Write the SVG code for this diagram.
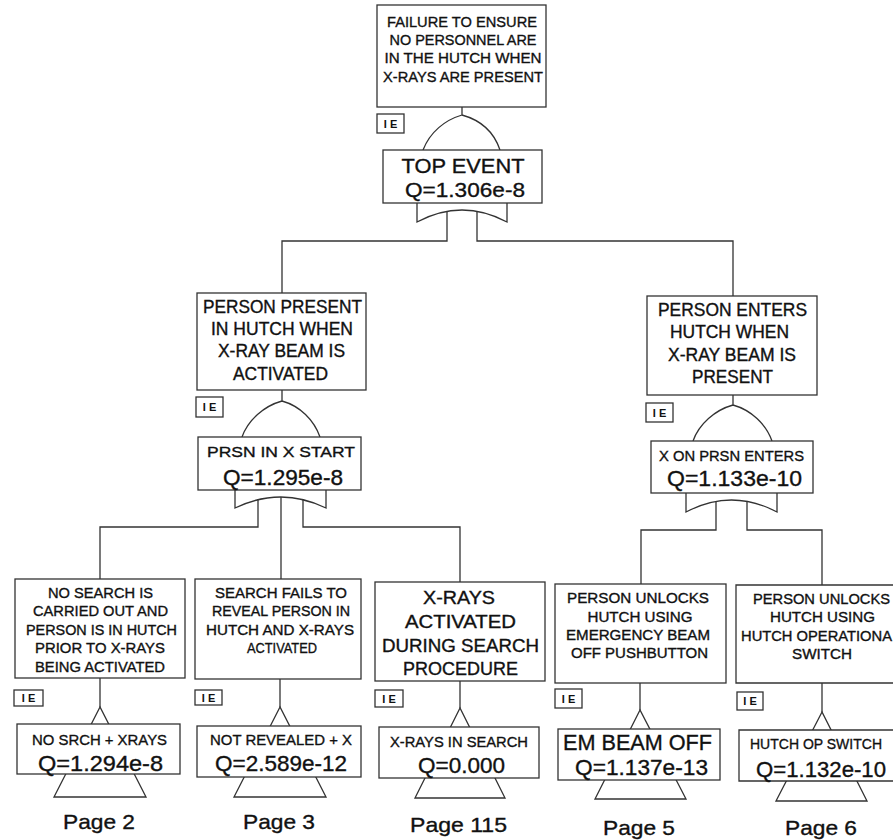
<svg xmlns="http://www.w3.org/2000/svg" width="893" height="840" viewBox="0 0 893 840">
<style>
.bx{fill:#fff;stroke:#333;stroke-width:1.3}
.ln{fill:none;stroke:#333;stroke-width:1.3}
.t{font-family:"Liberation Sans",Arial,sans-serif;fill:#111;stroke:#111;stroke-width:0.35;text-anchor:middle}
.s{font-size:15.5px}
.m{font-size:17.5px}
.b{font-size:14.5px}
.q{font-size:22px}
.pg{font-size:21px}
.ie{font-family:"Liberation Sans",Arial,sans-serif;font-size:11px;fill:#111;text-anchor:middle;font-weight:bold}
</style>
<rect width="893" height="840" fill="#fff"/>
<g id="connectors" class="ln">
<path d="M447,211 V241 H282 V293"/>
<path d="M477,211 V241 H733 V296"/>
<path d="M258,499 V527 H100 V579"/>
<path d="M281,497 V579"/>
<path d="M303,499 V527 H460 V582"/>
<path d="M716,502 V530 H641 V584"/>
<path d="M747,502 V530 H822 V585"/>
</g>
<g id="top-event">
<rect class="bx" x="377" y="5" width="169" height="102"/>
<text class="t s" x="462" y="27" textLength="150" lengthAdjust="spacingAndGlyphs">FAILURE TO ENSURE</text>
<text class="t s" x="463" y="45" textLength="147" lengthAdjust="spacingAndGlyphs">NO PERSONNEL ARE</text>
<text class="t s" x="463" y="63" textLength="157" lengthAdjust="spacingAndGlyphs">IN THE HUTCH WHEN</text>
<text class="t s" x="463" y="82" textLength="160" lengthAdjust="spacingAndGlyphs">X-RAYS ARE PRESENT</text>
<rect class="bx" x="377" y="114" width="27" height="19"/>
<text class="ie" x="390.5" y="128">I E</text>
<path class="ln" d="M462,107 V115 M423,150 C430,132 445,120 462,115 C480,120 494,132 500,150"/>
<path class="ln" d="M417,203 V222 Q462,198 507,222 V203"/>
<rect class="bx" x="383" y="150" width="159" height="53"/>
<text class="t" style="font-size:21px" x="463" y="173" textLength="123" lengthAdjust="spacingAndGlyphs">TOP EVENT</text>
<text class="t" style="font-size:21px" x="465" y="197" textLength="120" lengthAdjust="spacingAndGlyphs">Q=1.306e-8</text>
</g>
<g id="prsn-in-x-start">
<rect class="bx" x="197" y="293" width="169" height="97"/>
<text class="t m" x="282.5" y="313" textLength="159" lengthAdjust="spacingAndGlyphs">PERSON PRESENT</text>
<text class="t m" x="282" y="335" textLength="142" lengthAdjust="spacingAndGlyphs">IN HUTCH WHEN</text>
<text class="t m" x="281.5" y="357" textLength="127" lengthAdjust="spacingAndGlyphs">X-RAY BEAM IS</text>
<text class="t m" x="280.5" y="380" textLength="95" lengthAdjust="spacingAndGlyphs">ACTIVATED</text>
<rect class="bx" x="196" y="397" width="27" height="20"/>
<text class="ie" x="209.5" y="411">I E</text>
<path class="ln" d="M282,390 V401 M242,437 C248,420 264,406 282,401 C300,406 314,420 320,437"/>
<path class="ln" d="M235,490 V508 Q281,486 326,508 V490"/>
<rect class="bx" x="198" y="437" width="163" height="53"/>
<text class="t s" x="281" y="457" textLength="148" lengthAdjust="spacingAndGlyphs">PRSN IN X START</text>
<text class="t q" x="283" y="485" textLength="120" lengthAdjust="spacingAndGlyphs">Q=1.295e-8</text>
</g>
<g id="x-on-prsn-enters">
<rect class="bx" x="647" y="296" width="170" height="99"/>
<text class="t m" x="732.5" y="316" textLength="149" lengthAdjust="spacingAndGlyphs">PERSON ENTERS</text>
<text class="t m" x="729.5" y="338" textLength="119" lengthAdjust="spacingAndGlyphs">HUTCH WHEN</text>
<text class="t m" x="732" y="361" textLength="128" lengthAdjust="spacingAndGlyphs">X-RAY BEAM IS</text>
<text class="t m" x="732.5" y="383" textLength="81" lengthAdjust="spacingAndGlyphs">PRESENT</text>
<rect class="bx" x="646" y="403" width="27" height="19"/>
<text class="ie" x="659.5" y="416.5">I E</text>
<path class="ln" d="M733,395 V405 M693,441 C699,424 715,410 733,405 C751,410 766,424 772,441"/>
<path class="ln" d="M686,493 V512 Q731.5,488 777,512 V493"/>
<rect class="bx" x="651" y="441" width="162" height="52"/>
<text class="t s" x="731.5" y="461" textLength="145" lengthAdjust="spacingAndGlyphs">X ON PRSN ENTERS</text>
<text class="t q" x="734.5" y="486" textLength="135" lengthAdjust="spacingAndGlyphs">Q=1.133e-10</text>
</g>
<g id="no-srch-xrays">
<rect class="bx" x="15" y="579" width="170" height="99"/>
<text class="t b" x="100.5" y="598" textLength="105" lengthAdjust="spacingAndGlyphs">NO SEARCH IS</text>
<text class="t b" x="100.5" y="616" textLength="135" lengthAdjust="spacingAndGlyphs">CARRIED OUT AND</text>
<text class="t b" x="101.5" y="635" textLength="151" lengthAdjust="spacingAndGlyphs">PERSON IS IN HUTCH</text>
<text class="t b" x="100" y="653" textLength="130" lengthAdjust="spacingAndGlyphs">PRIOR TO X-RAYS</text>
<text class="t b" x="100" y="672" textLength="130" lengthAdjust="spacingAndGlyphs">BEING ACTIVATED</text>
<rect class="bx" x="14" y="690" width="29" height="16"/>
<text class="ie" x="28.5" y="702">I E</text>
<path class="ln" d="M100,678 V707"/>
<path class="bx" d="M100,707 L54,797 H146 Z"/>
<rect class="bx" x="17" y="724" width="163" height="50"/>
<text class="t s" x="99.5" y="745" textLength="135" lengthAdjust="spacingAndGlyphs">NO SRCH + XRAYS</text>
<text class="t q" x="100.5" y="771" textLength="125" lengthAdjust="spacingAndGlyphs">Q=1.294e-8</text>
<text class="t pg" x="99" y="829" textLength="72" lengthAdjust="spacingAndGlyphs">Page 2</text>
</g>
<g id="not-revealed-x">
<rect class="bx" x="195" y="579" width="166" height="100"/>
<text class="t b" x="281" y="598" textLength="132" lengthAdjust="spacingAndGlyphs">SEARCH FAILS TO</text>
<text class="t b" x="281" y="616" textLength="138" lengthAdjust="spacingAndGlyphs">REVEAL PERSON IN</text>
<text class="t b" x="280" y="635" textLength="148" lengthAdjust="spacingAndGlyphs">HUTCH AND X-RAYS</text>
<text class="t b" x="282" y="653" textLength="70" lengthAdjust="spacingAndGlyphs">ACTIVATED</text>
<rect class="bx" x="195" y="690" width="27" height="15"/>
<text class="ie" x="208.5" y="701.5">I E</text>
<path class="ln" d="M280,679 V707"/>
<path class="bx" d="M280,707 L234,797 H326 Z"/>
<rect class="bx" x="197" y="726" width="164" height="51"/>
<text class="t s" x="281" y="745" textLength="142" lengthAdjust="spacingAndGlyphs">NOT REVEALED + X</text>
<text class="t q" x="281" y="771" textLength="132" lengthAdjust="spacingAndGlyphs">Q=2.589e-12</text>
<text class="t pg" x="279" y="829" textLength="72" lengthAdjust="spacingAndGlyphs">Page 3</text>
</g>
<g id="x-rays-in-search">
<rect class="bx" x="375" y="582" width="170" height="99"/>
<text class="t m" x="459" y="604" textLength="72" lengthAdjust="spacingAndGlyphs">X-RAYS</text>
<text class="t m" x="460.5" y="628" textLength="111" lengthAdjust="spacingAndGlyphs">ACTIVATED</text>
<text class="t m" x="460.5" y="652" textLength="157" lengthAdjust="spacingAndGlyphs">DURING SEARCH</text>
<text class="t m" x="460.5" y="675" textLength="115" lengthAdjust="spacingAndGlyphs">PROCEDURE</text>
<rect class="bx" x="375" y="690" width="28" height="17"/>
<text class="ie" x="389" y="702.5">I E</text>
<path class="ln" d="M460,681 V708"/>
<path class="bx" d="M460,708 L415,798 H505 Z"/>
<rect class="bx" x="379" y="727" width="160" height="51"/>
<text class="t s" x="459" y="747" textLength="138" lengthAdjust="spacingAndGlyphs">X-RAYS IN SEARCH</text>
<text class="t q" x="461.5" y="773" textLength="87" lengthAdjust="spacingAndGlyphs">Q=0.000</text>
<text class="t pg" x="458.5" y="832" textLength="97" lengthAdjust="spacingAndGlyphs">Page 115</text>
</g>
<g id="em-beam-off">
<rect class="bx" x="555" y="584" width="171" height="99"/>
<text class="t b" x="638" y="603" textLength="142" lengthAdjust="spacingAndGlyphs">PERSON UNLOCKS</text>
<text class="t b" x="640" y="622" textLength="105" lengthAdjust="spacingAndGlyphs">HUTCH USING</text>
<text class="t b" x="638" y="640" textLength="144" lengthAdjust="spacingAndGlyphs">EMERGENCY BEAM</text>
<text class="t b" x="639.5" y="658" textLength="137" lengthAdjust="spacingAndGlyphs">OFF PUSHBUTTON</text>
<rect class="bx" x="555" y="689" width="27" height="19"/>
<text class="ie" x="568.5" y="702.5">I E</text>
<path class="ln" d="M640,683 V710"/>
<path class="bx" d="M640,710 L595,799 H686 Z"/>
<rect class="bx" x="558" y="729" width="162" height="51"/>
<text class="t q" x="637.5" y="750" textLength="149" lengthAdjust="spacingAndGlyphs">EM BEAM OFF</text>
<text class="t q" x="641.5" y="775" textLength="133" lengthAdjust="spacingAndGlyphs">Q=1.137e-13</text>
<text class="t pg" x="639" y="835" textLength="72" lengthAdjust="spacingAndGlyphs">Page 5</text>
</g>
<g id="hutch-op-switch">
<path class="bx" d="M893,585 H736 V683 H893"/>
<text class="t b" x="821.5" y="604" textLength="137" lengthAdjust="spacingAndGlyphs">PERSON UNLOCKS</text>
<text class="t b" x="822.5" y="622" textLength="105" lengthAdjust="spacingAndGlyphs">HUTCH USING</text>
<text class="t b" x="741" y="641" textLength="151" lengthAdjust="spacingAndGlyphs" style="text-anchor:start">HUTCH OPERATIONA</text>
<text class="t b" x="822" y="659" textLength="60" lengthAdjust="spacingAndGlyphs">SWITCH</text>
<rect class="bx" x="737" y="692" width="26" height="18"/>
<text class="ie" x="750" y="705">I E</text>
<path class="ln" d="M822,683 V712"/>
<path class="bx" d="M822,712 L776,801 H867 Z"/>
<path class="bx" d="M893,730 H739 V781 H893"/>
<text class="t s" x="816" y="749" textLength="132" lengthAdjust="spacingAndGlyphs">HUTCH OP SWITCH</text>
<text class="t q" x="821" y="777" textLength="130" lengthAdjust="spacingAndGlyphs">Q=1.132e-10</text>
<text class="t pg" x="821" y="835" textLength="72" lengthAdjust="spacingAndGlyphs">Page 6</text>
</g>
</svg>
